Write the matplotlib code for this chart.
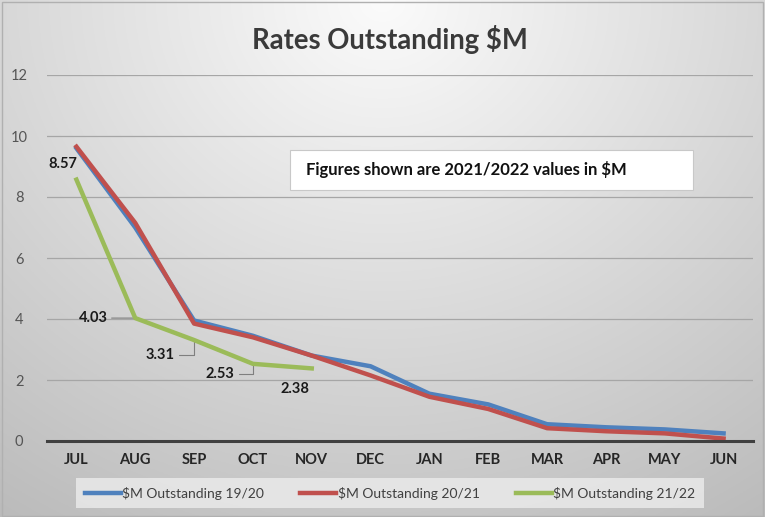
import numpy as np
import matplotlib
matplotlib.use("Agg")
import matplotlib.pyplot as plt
from matplotlib.patches import Rectangle

plt.rcParams['font.family'] = ['Lato', 'DejaVu Sans']

months = ["JUL", "AUG", "SEP", "OCT", "NOV", "DEC", "JAN", "FEB", "MAR", "APR", "MAY", "JUN"]
s1920 = [9.6, 7.0, 3.95, 3.45, 2.8, 2.45, 1.55, 1.2, 0.55, 0.45, 0.38, 0.25]
s2021 = [9.65, 7.15, 3.85, 3.4, 2.8, 2.15, 1.45, 1.05, 0.42, 0.32, 0.25, 0.08]
s2122 = [8.57, 4.03, 3.31, 2.53, 2.38]
labels = ["\\$M Outstanding 19/20", "\\$M Outstanding 20/21", "\\$M Outstanding 21/22"]
yticks = [0, 2, 4, 6, 8, 10, 12]

fig = plt.figure(figsize=(7.65, 5.17), dpi=100)

# gradient background
bg = fig.add_axes([0, 0, 1, 1], zorder=-10)
yy, xx = np.mgrid[0:1:300j, 0:1:450j]
d = np.sqrt(((xx - 0.5) / 0.75) ** 2 + ((yy - 0.0) / 1.0) ** 2)
g = 0.985 - 0.21 * np.clip(d, 0, 1.2)
bg.imshow(np.dstack([g, g, g]), extent=[0, 1, 0, 1], origin="upper", aspect="auto")
bg.set_xlim(0, 1); bg.set_ylim(0, 1)
bg.axis("off")
bg.add_patch(Rectangle((0.002, 0.002), 0.996, 0.994, fill=False, ec="#b0b0b0", lw=1))

ax = fig.add_axes([47 / 765, 1 - 441 / 517, 706 / 765, 366 / 517])
ax.set_facecolor("none")
x = np.arange(len(months))
ax.plot(x, s1920, color="#4F81BD", lw=3.2, label=labels[0], solid_joinstyle="round", zorder=3)
ax.plot(x, s2021, color="#C0504D", lw=3.2, label=labels[1], solid_joinstyle="round", zorder=4)
ax.plot(x[:len(s2122)], s2122, color="#9BBB59", lw=3.2, label=labels[2], solid_joinstyle="round", zorder=5)

ax.set_xlim(-0.5, 11.5)
ax.set_ylim(0, 12)
ax.set_yticks(yticks)
ax.set_xticks(x)
ax.set_xticklabels(months, fontweight="bold", fontsize=10.5, color="#262626")
ax.tick_params(axis="x", length=0, pad=9)
ax.tick_params(axis="y", length=0, pad=20, labelsize=10.5, labelcolor="#555555")
for lab in ax.get_yticklabels():
    lab.set_horizontalalignment("center")
ax.grid(axis="y", color="#a6a6a6", lw=0.9)
ax.set_axisbelow(True)
for s in ["top", "right", "left"]:
    ax.spines[s].set_visible(False)
ax.spines["bottom"].set_color("#404040")
ax.spines["bottom"].set_linewidth(2.2)
ax.spines["bottom"].set_zorder(6)

# data labels
lbl = dict(fontsize=10.5, fontweight="bold", color="#1a1a1a")
arr = dict(arrowstyle="-", color="#7f7f7f", lw=0.8, shrinkA=1, shrinkB=0)
ax.annotate("8.57", (0, s2122[0]), xytext=(-10, 11), textcoords="offset points", ha="center", va="center", **lbl)
ax.annotate("4.03", (1, s2122[1]), xytext=(-20, 0), textcoords="offset points", ha="right", va="center", arrowprops=arr, **lbl)
ax.annotate("3.31", (2, s2122[2]), xytext=(-14, -10.5), textcoords="offset points", ha="right", va="center",
            arrowprops=dict(arr, connectionstyle="angle,angleA=0,angleB=90,rad=0"), **lbl)
ax.annotate("2.53", (3, s2122[3]), xytext=(-13, -7), textcoords="offset points", ha="right", va="center",
            arrowprops=dict(arr, connectionstyle="angle,angleA=0,angleB=90,rad=0"), **lbl)
ax.annotate("2.38", (4, s2122[4]), xytext=(-12, -15), textcoords="offset points", ha="center", va="center", **lbl)

fig.text(0.51, 1 - 40 / 517, "Rates Outstanding \\$M", ha="center", va="center", fontsize=19.8, fontweight="bold", color="#3a3a3a")

fig.text(306 / 765, 1 - 170 / 517, "Figures shown are 2021/2022 values in \\$M", ha="left", va="center", fontsize=12,
         fontweight="bold", color="#111111")
fig.patches.append(Rectangle((290 / 765, 1 - 190 / 517), 403 / 765, 40 / 517, transform=fig.transFigure,
                             fc="white", ec="#c8c8c8", lw=0.8, zorder=1))

leg = fig.legend(loc="center", bbox_to_anchor=(390 / 765, 1 - 493 / 517), ncol=3, frameon=True, fancybox=False,
                 fontsize=10, handlelength=2.6, handletextpad=0.1, columnspacing=2.6,
                 borderpad=0.6)
leg.get_frame().set_facecolor("#ececec")
leg.get_frame().set_edgecolor("none")
leg.get_frame().set_alpha(0.8)
for t in leg.get_texts():
    t.set_color("#404040")

fig.savefig("out.png", dpi=100)
